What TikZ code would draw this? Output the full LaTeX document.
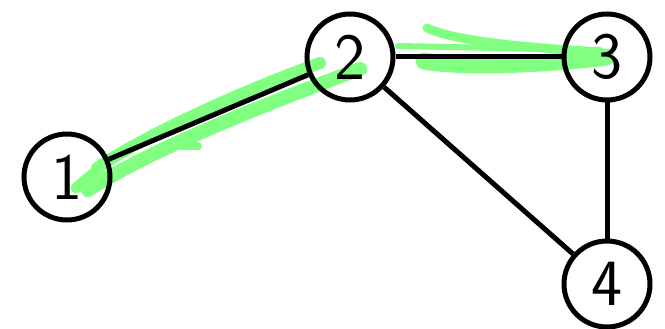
\documentclass[tikz,border=0pt]{standalone}
\usepackage{xcolor}
\usepackage{tikz}
\usetikzlibrary{automata,positioning,arrows.meta}
\definecolor{marker}{RGB}{128,255,128}
\tikzset{
  every state/.style={draw, line width=5pt, minimum size=86pt, inner sep=0pt,
    font=\sffamily\fontsize{66}{66}\selectfont},
  highlight/.style={draw=marker, line cap=round, line join=round},
}
\begin{document}
\begin{tikzpicture}[x=1pt, y=-1pt, auto, line width=5pt]
			\useasboundingbox (0,0) rectangle (665,329);

			% marker strokes
			\draw[highlight, line width=12pt] (97,168) .. controls (150,132) and (250,88) .. (320,63);
			\draw[highlight, line width=14pt] (88,190) .. controls (150,150) and (260,106) .. (360,69);
			\draw[highlight, line width=11pt] (76,188) -- (100,168);
			\draw[highlight, line width=8pt] (176,146) -- (198,146);
			\draw[highlight, line width=9pt] (427,28) .. controls (455,41) and (520,47) .. (598,52);
			\draw[highlight, line width=6pt] (398,46) -- (600,50);
			\draw[highlight, line width=17pt] (424,61) .. controls (470,69) and (560,63) .. (606,57);

			\node[state] (v1) at (67,177) {1};
			\node[state] (v2) at (350,57) {2};
			\node[state] (v3) [right of=v2, node distance=257pt] {3};
			\node[state] (v4) [below of=v3, node distance=227pt] {4};

			\path
			(v1) edge[-] (v2)
			(v2) edge[-] (v3)
			(v2) edge[-] (v4)
			(v3) edge[-] (v4);
		\end{tikzpicture}
\end{document}
